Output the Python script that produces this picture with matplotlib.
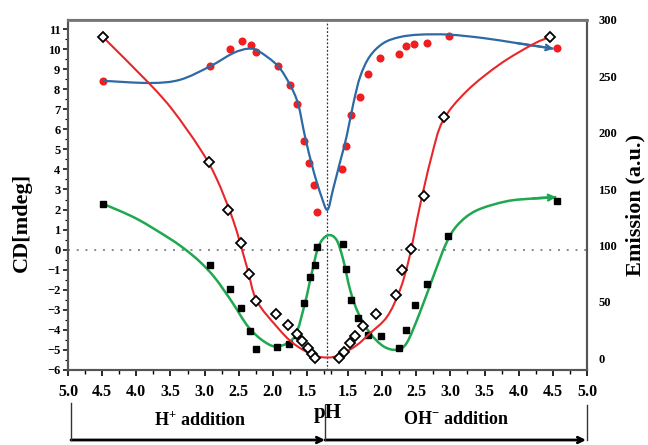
import numpy as np
import matplotlib
matplotlib.use('Agg')
import matplotlib.pyplot as plt
from matplotlib.path import Path
from matplotlib.patches import PathPatch

plt.rcParams['font.family'] = ['Liberation Serif', 'DejaVu Serif']
plt.rcParams['font.weight'] = 'bold'
plt.rcParams['mathtext.fontset'] = 'custom'
plt.rcParams['mathtext.rm'] = 'Liberation Serif:bold'
plt.rcParams['mathtext.bf'] = 'Liberation Serif:bold'
plt.rcParams['mathtext.it'] = 'Liberation Serif:bold'

# --- data: acid branch (H+ addition) and base branch (OH- addition) ---
# red dots (CD axis)
dot_ph_acid = [4.49, 2.92, 2.63, 2.45, 2.32, 2.24, 1.93, 1.75, 1.64, 1.55, 1.47, 1.40, 1.35]
dot_cd_acid = [8.42, 9.14, 10.02, 10.38, 10.18, 9.85, 9.17, 8.22, 7.26, 5.43, 4.34, 3.24, 1.88]
dot_ph_base = [1.41, 1.47, 1.55, 1.67, 1.79, 1.97, 2.24, 2.35, 2.47, 2.65, 2.98, 4.56]
dot_cd_base = [4.02, 5.15, 6.70, 7.59, 8.74, 9.57, 9.74, 10.17, 10.25, 10.28, 10.67, 10.05]

# blue fit through red dots
blue_ph_acid = [4.49, 3.80, 3.36, 2.92, 2.58, 2.36, 2.21, 1.93, 1.75, 1.63, 1.53, 1.41, 1.29, 1.20]
blue_cd_acid = [8.42, 8.31, 8.47, 9.14, 9.80, 10.02, 9.90, 9.17, 8.22, 7.26, 5.65, 3.99, 2.66, 1.99]
blue_ph_base = [1.28, 1.38, 1.48, 1.58, 1.68, 1.82, 2.02, 2.26, 2.55, 2.98, 3.48, 3.97, 4.51]
blue_cd_base = [2.99, 4.32, 5.65, 7.31, 8.64, 9.64, 10.30, 10.60, 10.72, 10.72, 10.55, 10.30, 10.02]

# open diamonds (emission axis)
dia_ph_acid = [4.49, 2.94, 2.65, 2.47, 2.35, 2.25, 1.95, 1.78, 1.65, 1.57, 1.48, 1.42, 1.38]
dia_em_acid = [285, 174, 131, 102, 75, 51, 39, 29, 21, 15, 9, 3.5, 0]
dia_ph_base = [1.37, 1.44, 1.53, 1.61, 1.72, 1.91, 2.21, 2.29, 2.43, 2.61, 2.90, 4.46]
dia_em_base = [0, 5, 13.6, 19.5, 28.3, 38.9, 55.8, 78.5, 97, 144, 214, 285]

# red fit through diamonds
red_ph_acid = [4.49, 3.80, 3.46, 3.07, 2.83, 2.58, 2.38, 2.24, 1.94, 1.70, 1.41, 1.20]
red_em_acid = [285, 243, 219.5, 186, 160, 122, 80.8, 51.3, 27.7, 13, 2.7, 0.5]
red_ph_base = [1.38, 1.63, 1.82, 2.07, 2.26, 2.40, 2.55, 2.72, 2.89, 3.24, 3.73, 4.21, 4.46]
red_em_base = [2.7, 11.5, 21.9, 36.5, 60.2, 89.6, 134, 178, 210.6, 237, 261, 278.5, 285]

# black squares (CD axis)
sq_ph_acid = [4.49, 2.92, 2.63, 2.46, 2.33, 2.24, 1.94, 1.76, 1.65, 1.54, 1.46, 1.39, 1.36]
sq_cd_acid = [2.29, -0.78, -1.96, -2.91, -4.07, -4.94, -4.85, -4.69, -4.24, -2.66, -1.36, -0.75, 0.12]
sq_ph_base = [1.42, 1.47, 1.55, 1.65, 1.79, 1.98, 2.25, 2.35, 2.48, 2.65, 2.97, 4.56]
sq_cd_base = [0.30, -0.96, -2.49, -3.41, -4.24, -4.32, -4.90, -3.99, -2.74, -1.69, 0.70, 2.44]

# green fit through squares
grn_ph_acid = [4.49, 4.0, 3.51, 3.28, 3.07, 2.85, 2.60, 2.36, 2.12, 1.92, 1.68, 1.53, 1.43, 1.33, 1.20]
grn_cd_acid = [2.29, 1.55, 0.55, 0.0, -0.6, -1.4, -2.6, -3.85, -4.6, -4.82, -4.32, -2.66, -1.16, 0.17, 0.71]
grn_ph_base = [1.33, 1.43, 1.53, 1.65, 1.82, 2.02, 2.21, 2.36, 2.55, 2.75, 2.94, 3.11, 3.38, 3.82, 4.21, 4.55]
grn_cd_base = [0.5, -0.5, -1.99, -3.16, -4.15, -4.82, -4.99, -4.65, -3.16, -1.33, 0.33, 1.25, 1.95, 2.41, 2.55, 2.62]

tick_ph = [5.0, 4.5, 4.0, 3.5, 3.0, 2.5, 2.0, 1.5]
minor_ph = [4.75, 4.25, 3.75, 3.25, 2.75, 2.25, 1.75, 1.25]

CENTER = 1.2  # lowest pH reached, middle of the axis


def acid(p):
    return 5.0 - np.asarray(p, dtype=float)


def base(p):
    return (5.0 - CENTER) + (np.asarray(p, dtype=float) - CENTER)


def smooth(x, y):
    # smooth bezier path through the read points
    pts = np.column_stack([x, y])
    n = len(pts)
    verts = [pts[0]]
    codes = [Path.MOVETO]
    for i in range(n - 1):
        p0 = pts[i - 1] if i > 0 else pts[i]
        p1, p2 = pts[i], pts[i + 1]
        p3 = pts[i + 2] if i + 2 < n else pts[i + 1]
        verts += [p1 + (p2 - p0) / 6, p2 - (p3 - p1) / 6, p2]
        codes += [Path.CURVE4] * 3
    return Path(verts, codes)


fig = plt.figure(figsize=(6.48, 4.45), dpi=100)
ax = fig.add_axes([68 / 648, 1 - 370 / 445, (587 - 68) / 648, 350 / 445])
ax2 = ax.twinx()

ax.set_xlim(0, 2 * (5.0 - CENTER))
ax.set_ylim(-6, 11.45)
ax2.set_ylim(-10.6, 299)

# reference lines
ax.axvline(5.0 - CENTER, color='#333333', lw=0.9, ls=(0, (1.5, 1.5)), zorder=1)
ax.axhline(0, color='#888888', lw=1.4, ls=(0, (1, 3.5)), zorder=1)

# blue curve + red dots
bx = np.concatenate([acid(blue_ph_acid), base(blue_ph_base)])
by = np.concatenate([blue_cd_acid, blue_cd_base])
ax.plot(acid(dot_ph_acid), dot_cd_acid, 'o', color='#f01e1e', ms=5.8, mec='none', zorder=2)
ax.plot(base(dot_ph_base), dot_cd_base, 'o', color='#f01e1e', ms=5.8, mec='none', zorder=2)
ax.add_patch(PathPatch(smooth(bx, by), fc='none', ec='#2d6aa3', lw=1.6, zorder=3))
ax.annotate('', xy=(bx[-1], by[-1]), xytext=(bx[-2], by[-2]),
            arrowprops=dict(arrowstyle='->', color='#2d6aa3', lw=1.6, shrinkA=0, shrinkB=0), zorder=3)

# green curve + squares
gx = np.concatenate([acid(grn_ph_acid), base(grn_ph_base)])
gy = np.concatenate([grn_cd_acid, grn_cd_base])
ax.add_patch(PathPatch(smooth(gx, gy), fc='none', ec='#1fa84f', lw=1.8, zorder=3))
ax.annotate('', xy=(gx[-1], gy[-1]), xytext=(gx[-2], gy[-2]),
            arrowprops=dict(arrowstyle='->', color='#1fa84f', lw=1.8, shrinkA=0, shrinkB=0), zorder=3)
ax.plot(acid(sq_ph_acid), sq_cd_acid, 's', color='black', ms=4.5, zorder=4)
ax.plot(base(sq_ph_base), sq_cd_base, 's', color='black', ms=4.5, zorder=4)

# red curve + diamonds on emission axis
rx = np.concatenate([acid(red_ph_acid), base(red_ph_base)])
ry = np.concatenate([red_em_acid, red_em_base])
ax2.add_patch(PathPatch(smooth(rx, ry), fc='none', ec='#e8262a', lw=1.5, zorder=2))
ax2.plot(acid(dia_ph_acid), dia_em_acid, 'D', mfc='white', mec='black', mew=1.3, ms=5, zorder=3)
ax2.plot(base(dia_ph_base), dia_em_base, 'D', mfc='white', mec='black', mew=1.3, ms=5, zorder=3)

# x ticks: pH goes down then back up
ax.set_xticks(np.concatenate([acid(tick_ph), base(tick_ph[::-1])]))
ax.set_xticklabels([f'{p:.1f}' for p in tick_ph] + [f'{p:.1f}' for p in tick_ph[::-1]])
ax.set_xticks(np.concatenate([acid(minor_ph), base(minor_ph)]), minor=True)
ax.tick_params(axis='x', which='major', labelsize=11.5, length=4, width=1.2, pad=6)
ax.tick_params(axis='x', which='minor', length=3, width=1)

ax.set_yticks(range(-6, 12))
ax.set_yticks(np.arange(-5.5, 11.5, 1.0), minor=True)
ax.tick_params(axis='y', which='major', labelsize=9, length=3.5, width=1.1, pad=2)
ax.tick_params(axis='y', which='minor', length=2, width=0.8)

ax2.set_yticks([0, 50, 100, 150, 200, 250, 300])
ax2.tick_params(axis='y', labelsize=9, length=0, pad=8)

for a in (ax, ax2):
    for s in a.spines.values():
        s.set_color('#555555')
        s.set_linewidth(1.5)
ax2.spines['top'].set_color('#777777')
ax2.spines['top'].set_linewidth(2)

# axis titles
fig.text(22 / 648, 1 - 222 / 445, 'CD[mdeg]', rotation=90, ha='center', va='center', fontsize=16)
fig.text(635 / 648, 1 - 205 / 445, 'Emission (a.u.)', rotation=90, ha='center', va='center', fontsize=16)

# bottom annotation with arrows
fig.text(200 / 648, 1 - 420 / 445, 'H$^{+}$ addition', ha='center', va='center', fontsize=13)
fig.text(456 / 648, 1 - 420 / 445, 'OH$^{-}$ addition', ha='center', va='center', fontsize=13)
fig.text(328 / 648, 1 - 413 / 445, 'pH', ha='center', va='center', fontsize=15)

for x0, y0 in [(71, 403), (325, 405), (587, 405)]:
    fig.add_artist(plt.Line2D([x0 / 648, x0 / 648], [1 - y0 / 445, 1 - 440 / 445],
                              color='#333333', lw=1))
ax.annotate('', xy=(325, 5), xytext=(71, 5), xycoords='figure pixels', textcoords='figure pixels',
            arrowprops=dict(arrowstyle='->', color='black', lw=2, shrinkA=0, shrinkB=0))
ax.annotate('', xy=(586, 5), xytext=(325, 5), xycoords='figure pixels', textcoords='figure pixels',
            arrowprops=dict(arrowstyle='->', color='black', lw=2, shrinkA=0, shrinkB=0))

fig.savefig('out.png', dpi=100)
